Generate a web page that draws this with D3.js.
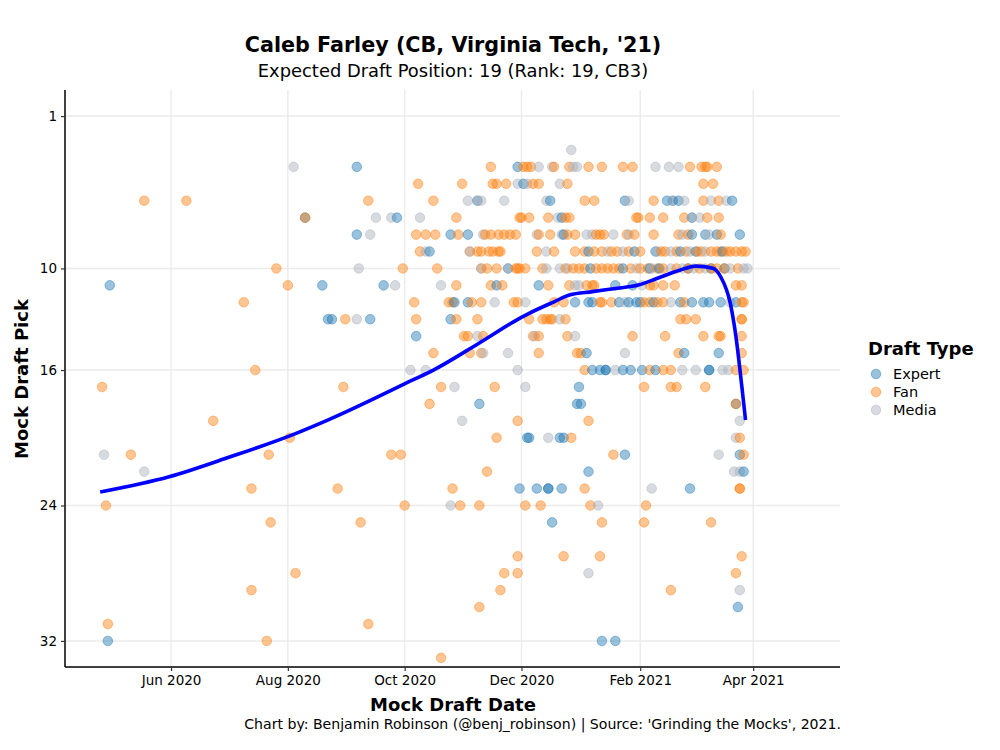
<!DOCTYPE html>
<html><head><meta charset="utf-8">
<script src="https://cdn.jsdelivr.net/npm/d3@7"></script>
<style>body{margin:0;background:#fff}svg{font-family:"DejaVu Sans",sans-serif}</style>
</head><body>
<svg id="c" width="1000" height="750"></svg>
<script>
const expert = [["2020-04-30",11],["2020-04-29",32],["2020-08-10",7],["2020-08-19",11],["2020-08-22",13],["2020-08-24",13],["2020-09-06",4],["2020-09-06",8],["2020-09-13",13],["2020-09-20",11],["2020-09-27",7],["2020-10-07",14],["2020-10-14",9],["2020-10-25",8],["2020-10-25",13],["2020-10-27",12],["2020-11-03",8],["2020-11-03",12],["2020-11-08",6],["2020-11-09",18],["2020-11-18",11],["2020-11-24",10],["2020-11-29",4],
["2020-12-02",5],["2020-12-16",6],["2021-01-24",6],["2021-02-15",6],["2021-02-18",6],["2021-02-21",6],["2021-03-21",6],["2020-12-22",7],["2021-02-28",7],["2020-12-23",8],["2021-02-28",8],["2021-03-07",8],["2021-03-13",8],["2021-03-25",8],
["2021-01-05",9],["2021-01-29",9],["2021-02-09",9],["2021-02-22",9],["2021-03-02",9],["2021-03-16",9],
["2021-01-06",10],["2021-01-23",10],["2021-02-06",10],["2021-02-11",10],["2021-02-26",10],["2021-03-10",10],["2021-03-17",10],
["2020-12-10",11],["2021-01-19",11],["2021-01-28",11],
["2020-12-29",12],["2021-01-05",12],["2021-01-07",12],["2021-01-21",12],["2021-01-26",12],["2021-01-30",12],["2021-02-01",12],["2021-02-08",12],["2021-02-22",12],["2021-02-28",12],["2021-03-06",12],["2021-03-09",12],["2021-03-15",12],["2021-03-23",12],
["2021-01-04",15],["2021-02-24",15],["2021-03-14",15],
["2021-01-07",16],["2021-01-11",16],["2021-01-14",16],["2021-01-14",16],["2021-01-23",16],["2021-01-27",16],["2021-02-02",16],["2021-02-09",16],["2021-03-09",16],["2021-03-09",16],
["2020-12-31",17],["2020-12-30",18],["2021-01-01",18],["2021-03-23",18],
["2020-12-04",20],["2020-12-05",20],["2020-12-21",20],["2020-12-23",20],["2021-01-24",21],["2021-03-25",21],["2021-01-05",22],["2021-03-27",22],
["2020-11-30",23],["2020-12-09",23],["2020-12-15",23],["2020-12-15",23],["2020-12-22",23],["2021-02-27",23],["2020-12-17",25],["2021-03-24",30],["2021-01-12",32],["2021-01-19",32]];

const fan = [["2020-04-26",17],["2020-04-28",24],["2020-04-29",31],["2020-05-18",6],["2020-06-09",6],["2020-05-11",21],["2020-06-23",19],["2020-07-09",12],["2020-07-13",23],["2020-07-13",29],["2020-07-15",16],["2020-07-21",32],["2020-07-22",21],["2020-07-23",25],["2020-07-26",10],["2020-08-01",11],["2020-08-02",20],["2020-08-05",28],["2020-08-10",7],["2020-08-27",23],["2020-08-30",17],["2020-08-31",13],["2020-09-08",25],["2020-09-12",6],["2020-09-12",31],["2020-09-24",21],["2020-09-29",21],["2020-09-30",10],["2020-10-01",24],["2020-10-06",12],["2020-10-07",13],["2020-10-07",8],["2020-10-08",5],["2020-10-09",9],["2020-10-12",8],["2020-10-14",18],["2020-10-16",6],["2020-10-16",15],["2020-10-17",8],["2020-10-18",10],["2020-10-20",17],["2020-10-20",33],["2020-10-24",12],["2020-10-26",23],["2020-10-26",12],["2020-10-28",7],["2020-10-28",11],["2020-10-28",13],["2020-10-29",8],["2020-10-30",24],["2020-10-31",5],["2020-11-01",14],["2020-11-03",14],["2020-11-04",15],["2020-11-04",9],["2020-11-05",12],["2020-11-08",9],["2020-11-08",13],["2020-11-09",24],["2020-11-09",30],["2020-11-10",10],["2020-11-10",15],["2020-11-10",9],["2020-11-10",12],["2020-11-11",14],["2020-11-12",8],["2020-11-13",22],["2020-11-13",10],["2020-11-14",9],["2020-11-15",4],["2020-11-15",11],["2020-11-15",8],["2020-11-16",5],["2020-11-16",9],["2020-11-17",17],["2020-11-18",5],["2020-11-18",20],["2020-11-18",10],["2020-11-19",8],["2020-11-19",9],["2020-11-20",29],["2020-11-20",9],["2020-11-21",11],["2020-11-22",28],["2020-11-22",8],["2020-11-23",5],["2020-11-25",8],["2020-11-27",12],["2020-11-28",8],["2020-11-29",10],["2020-11-29",19],["2020-11-29",12],["2020-11-29",27],["2020-11-29",28],["2020-11-30",7],
["2020-12-02",4],["2020-12-04",4],["2020-12-06",4],["2020-12-18",4],["2020-12-26",4],["2021-01-05",4],["2021-01-12",4],["2021-01-23",4],["2021-01-28",4],["2021-02-27",4],["2021-03-05",4],["2021-03-07",4],["2021-03-08",4],["2021-03-13",4],
["2020-12-07",5],["2020-12-10",5],["2020-12-25",5],["2021-03-06",5],["2021-03-11",5],
["2021-01-03",6],["2021-01-08",6],["2021-02-08",6],["2021-03-06",6],["2021-03-14",6],
["2020-12-01",7],["2020-12-05",7],["2020-12-15",7],["2020-12-24",7],["2020-12-26",7],["2021-01-30",7],["2021-01-31",7],["2021-02-06",7],["2021-02-13",7],["2021-02-24",7],["2021-03-08",7],["2021-03-14",7],
["2020-12-10",8],["2020-12-16",8],["2020-12-25",8],["2020-12-29",8],["2021-01-09",8],["2021-01-11",8],["2021-01-13",8],["2021-01-25",8],["2021-01-29",8],["2021-02-08",8],["2021-02-21",8],["2021-02-26",8],["2021-03-15",8],
["2020-12-09",9],["2020-12-18",9],["2020-12-29",9],["2021-01-03",9],["2021-01-08",9],["2021-01-12",9],["2021-01-17",9],["2021-01-20",9],["2021-01-26",9],["2021-02-01",9],["2021-02-12",9],["2021-02-14",9],["2021-02-20",9],["2021-02-25",9],["2021-03-03",9],["2021-03-05",9],["2021-03-10",9],["2021-03-13",9],["2021-03-15",9],["2021-03-18",9],["2021-03-20",9],["2021-03-23",9],["2021-03-26",9],["2021-03-28",9],
["2020-11-28",10],["2020-11-30",10],["2020-12-03",10],["2020-12-12",10],["2020-12-24",10],["2020-12-28",10],["2020-12-31",10],["2021-01-03",10],["2021-01-09",10],["2021-01-12",10],["2021-01-15",10],["2021-01-18",10],["2021-01-21",10],["2021-01-27",10],["2021-02-01",10],["2021-02-05",10],["2021-02-10",10],["2021-02-13",10],["2021-02-20",10],["2021-02-26",10],["2021-03-04",10],["2021-03-10",10],["2021-03-13",10],["2021-03-17",10],["2021-03-24",10],
["2020-12-15",11],["2020-12-26",11],["2021-01-04",11],["2021-01-07",11],["2021-01-08",11],["2021-02-06",11],["2021-02-08",11],["2021-02-13",11],["2021-02-19",11],["2021-03-23",11],["2021-03-26",11],
["2020-12-18",12],["2020-12-23",12],["2021-01-11",12],["2021-01-12",12],["2021-01-17",12],["2021-02-03",12],["2021-02-06",12],["2021-02-10",12],["2021-02-13",12],["2021-02-24",12],["2021-03-26",12],["2021-03-27",12],
["2020-12-05",13],["2020-12-12",13],["2020-12-14",13],["2020-12-16",13],["2020-12-17",13],["2020-12-24",13],["2021-02-22",13],["2021-02-25",13],["2021-03-02",13],["2021-03-26",13],["2021-03-26",13],
["2020-12-07",14],["2020-12-10",14],["2020-12-25",14],["2021-01-28",14],["2021-02-14",14],["2021-03-06",14],["2021-03-14",14],["2021-03-15",14],["2021-03-26",14],
["2020-12-10",15],["2020-12-30",15],["2021-01-01",15],["2021-02-21",15],["2021-03-26",15],
["2021-01-03",16],["2021-02-06",16],["2021-02-13",16],["2021-02-17",16],["2021-03-23",16],["2021-03-27",16],
["2021-02-03",17],["2021-02-17",17],["2021-02-20",17],["2021-03-07",17],["2021-03-23",18],["2021-01-05",19],["2020-12-27",20],["2021-03-25",20],["2021-01-18",21],["2021-03-27",21],
["2021-01-03",23],["2021-03-25",23],["2021-03-25",23],["2020-12-03",24],["2020-12-11",24],["2021-01-06",24],["2021-02-04",24],["2021-01-12",25],["2021-02-03",25],["2021-03-10",25],
["2020-12-23",27],["2021-01-11",27],["2021-03-26",27],["2021-03-23",28],["2021-02-17",29]];

const media = [["2020-04-27",21],["2020-05-18",22],["2020-08-04",4],["2020-09-06",13],["2020-09-07",10],["2020-09-13",8],["2020-09-16",7],["2020-09-24",7],["2020-09-26",11],["2020-10-04",16],["2020-10-09",7],["2020-10-12",9],["2020-10-12",16],["2020-10-20",11],["2020-10-25",24],["2020-10-27",17],["2020-10-31",19],["2020-11-03",6],["2020-11-08",6],["2020-11-10",6],["2020-11-08",14],["2020-11-10",10],["2020-11-11",8],["2020-11-11",15],["2020-11-17",12],["2020-11-22",6],["2020-11-24",10],["2020-11-24",15],["2020-11-29",5],["2020-11-29",16],["2020-11-04",9],
["2020-12-27",3],["2020-12-10",4],["2020-12-17",4],["2020-12-28",4],["2020-12-30",4],["2021-02-09",4],["2021-02-16",4],["2021-02-21",4],
["2020-12-04",5],["2020-12-21",5],["2020-12-14",6],["2021-01-26",6],["2021-02-18",6],["2021-02-24",6],["2021-03-10",6],["2021-03-18",6],
["2020-12-20",7],["2021-02-28",7],["2021-03-04",7],
["2020-12-09",8],["2020-12-22",8],["2021-01-04",8],["2021-01-07",8],["2021-01-18",8],["2021-01-26",8],["2021-02-23",8],["2021-03-09",8],
["2020-12-14",9],["2021-01-15",9],["2021-01-23",9],["2021-02-10",9],["2021-02-17",9],["2021-02-27",9],["2021-03-07",9],
["2020-12-14",10],["2020-12-21",10],["2020-12-25",10],["2021-01-30",10],["2021-02-07",10],["2021-02-17",10],["2021-02-23",10],["2021-03-01",10],["2021-03-07",10],["2021-03-20",10],["2021-03-27",10],["2021-03-29",10],
["2020-12-29",11],["2020-12-31",11],["2021-02-02",11],["2020-12-03",12],["2021-01-24",12],["2021-02-17",12],["2021-03-20",12],["2020-12-21",13],["2020-12-08",14],["2020-12-29",14],["2021-01-24",15],
["2021-01-19",16],["2021-02-23",16],["2021-03-02",16],["2021-03-16",16],["2021-03-19",16],["2020-12-03",17],["2021-03-25",19],["2020-12-15",20],["2021-03-23",20],["2021-03-14",21],["2021-03-22",22],["2021-03-25",22],["2021-02-07",23],["2021-01-10",24],["2021-01-05",28],["2021-03-25",29]];

const smoothDates = ["2020-04-25","2020-05-31","2020-06-30","2020-08-04","2020-08-23","2020-10-05","2020-10-16","2020-11-09","2020-11-30","2020-12-05","2020-12-18","2020-12-26","2021-01-07","2021-01-20","2021-01-31","2021-02-10","2021-02-22","2021-03-02","2021-03-11","2021-03-15","2021-03-20","2021-03-23","2021-03-26","2021-03-28"];
const smoothPicks = [23.2,22.3,21.2,19.8,18.9,16.6,16.0,14.4,12.95,12.65,11.97,11.57,11.37,11.17,10.98,10.58,10.09,9.86,9.99,10.49,12.04,14.03,16.9,18.95];

const xTickDates = ["2020-06-01","2020-08-01","2020-10-01","2020-12-01","2021-02-01","2021-04-01"];
const yTicks = [1,10,16,24,32];
const types = ["Expert","Fan","Media"];
const colors = ["#1f77b4","#ff7f0e","#a7afba"];

const parse = d3.utcParse("%Y-%m-%d");
const svg = d3.select("#c");
const L=65,R=840,T=90,B=667;
const x = d3.scaleUtc().domain([new Date(Date.UTC(2020,3,6,15)), new Date(Date.UTC(2021,4,16,8))]).range([L,R]);
const y = d3.scaleLinear().domain([-0.54,33.54]).range([T,B]);
const color = d3.scaleOrdinal().domain(types).range(colors);

// grid
const g = svg.append("g");
g.selectAll(".vg").data(xTickDates).join("line").attr("x1",d=>x(parse(d))).attr("x2",d=>x(parse(d))).attr("y1",T).attr("y2",B).attr("stroke","#ebebeb").attr("stroke-width",1.4);
g.selectAll(".hg").data(yTicks).join("line").attr("y1",d=>y(d)).attr("y2",d=>y(d)).attr("x1",L).attr("x2",R).attr("stroke","#ebebeb").attr("stroke-width",1.4);

// points
const pts = [];
expert.forEach(d=>pts.push({t:"Expert",d:parse(d[0]),p:d[1]}));
fan.forEach(d=>pts.push({t:"Fan",d:parse(d[0]),p:d[1]}));
media.forEach(d=>pts.push({t:"Media",d:parse(d[0]),p:d[1]}));
pts.sort((a,b)=>a.d-b.d);
svg.append("g").selectAll("circle").data(pts).join("circle")
  .attr("cx",d=>x(d.d)).attr("cy",d=>y(d.p)).attr("r",4.8)
  .attr("fill",d=>color(d.t)).attr("fill-opacity",0.45)
  .attr("stroke",d=>color(d.t)).attr("stroke-opacity",0.55).attr("stroke-width",0.8);

// smooth
const sm = smoothDates.map((d,i)=>[parse(d),smoothPicks[i]]);
svg.append("path").datum(sm).attr("fill","none").attr("stroke","#0000ff").attr("stroke-width",3.6)
  .attr("d",d3.line().x(d=>x(d[0])).y(d=>y(d[1])).curve(d3.curveMonotoneX));

// axes
const xa = svg.append("g").attr("transform",`translate(0,${B})`)
  .call(d3.axisBottom(x).tickValues(xTickDates.map(parse)).tickFormat(d3.utcFormat("%b %Y")).tickSize(4).tickPadding(4));
const ya = svg.append("g").attr("transform",`translate(${L},0)`)
  .call(d3.axisLeft(y).tickValues(yTicks).tickSize(4).tickPadding(4));
[xa,ya].forEach(a=>{a.select(".domain").attr("stroke","#000").attr("stroke-width",1.5);
  a.selectAll(".tick line").attr("stroke","#333").attr("stroke-width",1.2);
  a.selectAll("text").attr("font-family","DejaVu Sans").attr("font-size",13.5).attr("fill","#000");});
xa.select(".domain").attr("d",`M${L},0H${R}`);
ya.select(".domain").attr("d",`M0,${T}V${B}`);

// titles
svg.append("text").attr("x",453).attr("y",52).attr("text-anchor","middle").attr("font-weight","bold").attr("font-size",20.7).text("Caleb Farley (CB, Virginia Tech, '21)");
svg.append("text").attr("x",453).attr("y",77).attr("text-anchor","middle").attr("font-size",17.9).text("Expected Draft Position: 19 (Rank: 19, CB3)");
svg.append("text").attr("x",453).attr("y",711).attr("text-anchor","middle").attr("font-weight","bold").attr("font-size",18).text("Mock Draft Date");
svg.append("text").attr("transform","translate(28,379) rotate(-90)").attr("text-anchor","middle").attr("font-weight","bold").attr("font-size",18).text("Mock Draft Pick");
svg.append("text").attr("x",841).attr("y",729).attr("text-anchor","end").attr("font-size",14.1).text("Chart by: Benjamin Robinson (@benj_robinson) | Source: 'Grinding the Mocks', 2021.");

// legend
const lg = svg.append("g");
lg.append("text").attr("x",868).attr("y",355).attr("font-weight","bold").attr("font-size",18).text("Draft Type");
types.forEach((t,i)=>{
  const yy = 374 + i*18;
  lg.append("circle").attr("cx",876).attr("cy",yy).attr("r",4.8).attr("fill",color(t)).attr("fill-opacity",0.45).attr("stroke",color(t)).attr("stroke-opacity",0.55).attr("stroke-width",0.8);
  lg.append("text").attr("x",893).attr("y",yy+5).attr("font-size",14.5).text(t);
});
</script>
</body></html>
